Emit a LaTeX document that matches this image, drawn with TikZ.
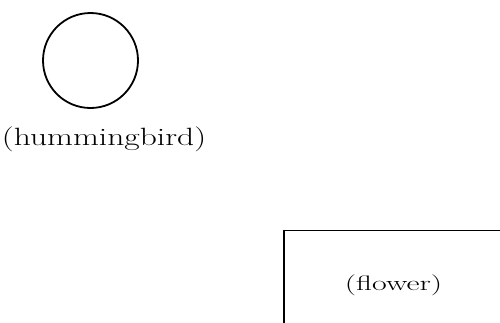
\documentclass[tikz,border=0pt]{standalone}
\usepackage{graphicx}
\begin{document}
\begin{tikzpicture}[x=1pt,y=-1pt,
  shapeline/.style={draw=black,line width=1.8pt},
  lbl/.style={inner sep=0pt,anchor=center}]
\useasboundingbox (0,0) rectangle (500,322);
\clip (0,0) rectangle (500,322);
\node[shapeline,circle,minimum size=95pt,inner sep=0pt] (bird) at (90.5,60.5) {};
\node[lbl] (birdlabel) at (104,139) {\scalebox{1.34}[1]{\fontsize{25}{30}\selectfont (hummingbird)}};
\node[shapeline,rectangle,anchor=north west,minimum width=240pt,minimum height=120pt,inner sep=0pt] (flowerbox) at (283,229.5) {};
\node[lbl] (flowerlabel) at (393.5,285) {\scalebox{1.6}[1.05]{\fontsize{20}{24}\selectfont (flower)}};
\end{tikzpicture}
\end{document}
